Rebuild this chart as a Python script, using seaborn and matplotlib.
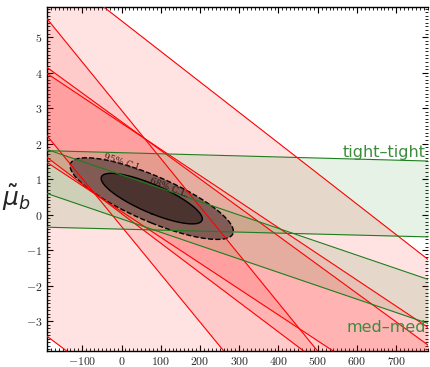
import numpy as np
import pandas as pd
import matplotlib
matplotlib.use("Agg")
import matplotlib.pyplot as plt
import seaborn as sns
from matplotlib.ticker import MultipleLocator, FuncFormatter

# Channel constraints: each edge is mu_b = offset + slope * x
red_upper_offset = [5.46, 2.94, 2.617, 2.577]
red_upper_slope = [-0.00861, -0.01358, -0.00806, -0.00737]
red_lower_offset = [-5.00, -0.335, 0.028, 0.087]
red_lower_slope = [-0.00828, -0.01347, -0.00834, -0.00729]

green_names = ["tight\u2013tight", "med\u2013med"]
green_upper_offset = [1.743, 1.118]
green_upper_slope = [-0.0003, -0.00377]
green_lower_offset = [-0.41, -0.122]
green_lower_slope = [-0.00028, -0.00377]

# Combined fit: centre, widths and correlation
fit_center = [77.0, 0.45]
fit_sigma = [85.0, 0.47]
fit_rho = -0.80
cl_levels = [5.99, 2.30]      # delta chi^2 for 95% and 68% C.L. in 2D
cl_labels = ["95% C.L.", "68% C.L."]
cl_colors = ["#7b5651", "#47302c"]
cl_styles = ["--", "-"]

xlim = (-191, 782)
ylim = (-3.84, 5.86)

sns.set_theme(style="ticks")
plt.rcParams["mathtext.fontset"] = "cm"
plt.rcParams["font.family"] = ["DejaVu Sans"]

fig = plt.figure(figsize=(4.31, 3.67), dpi=100)
ax = fig.add_axes([0.108, 0.044, 0.886, 0.938])

xs = np.linspace(xlim[0], xlim[1], 400)

red_bands = list(zip(red_upper_offset, red_upper_slope, red_lower_offset, red_lower_slope))
green_bands = list(zip(green_upper_offset, green_upper_slope, green_lower_offset, green_lower_slope))

# band fills
for uo, us, lo, ls in red_bands:
    ax.fill_between(xs, lo + ls * xs, uo + us * xs, color="red", alpha=0.11, lw=0, zorder=1)
for uo, us, lo, ls in green_bands:
    ax.fill_between(xs, lo + ls * xs, uo + us * xs, color="green", alpha=0.10, lw=0, zorder=1)

# confidence regions of the combined fit
cov = np.array([[fit_sigma[0] ** 2, fit_rho * fit_sigma[0] * fit_sigma[1]],
                [fit_rho * fit_sigma[0] * fit_sigma[1], fit_sigma[1] ** 2]])
w, v = np.linalg.eigh(cov)
t = np.linspace(0, 2 * np.pi, 300)
for lvl, col, style in zip(cl_levels, cl_colors, cl_styles):
    circ = np.vstack([np.cos(t), np.sin(t)]) * np.sqrt(w * lvl)[:, None]
    pts = v @ circ
    ex = fit_center[0] + pts[0]
    ey = fit_center[1] + pts[1]
    ax.fill(ex, ey, color=col, alpha=0.92, lw=0, zorder=2)
    ax.plot(ex, ey, color="black", ls=style, lw=1.0, zorder=3)

# boundary lines via seaborn
rows = []
k = 0
for kind, bands in [("red", red_bands), ("green", green_bands)]:
    for uo, us, lo, ls in bands:
        for off, sl in ((uo, us), (lo, ls)):
            for xv in xs:
                rows.append((kind, k, xv, off + sl * xv))
            k += 1
lines = pd.DataFrame(rows, columns=["kind", "line", "x", "y"])
for kind, col in [("red", "#ff0000"), ("green", "#1e7d1e")]:
    sub = lines[lines.kind == kind]
    sns.lineplot(data=sub, x="x", y="y", units="line", estimator=None,
                 color=col, lw=0.8, ax=ax, legend=False, zorder=4, sort=False)

ax.set_xlim(*xlim)
ax.set_ylim(*ylim)
ax.set_xlabel("")

# labels on the contours
ax.text(5, 1.46, cl_labels[0], rotation=-18, fontsize=6.5, family="DejaVu Serif",
        color="#3a2525", ha="center", va="center", zorder=5)
ax.text(122, 0.74, cl_labels[1], rotation=-21, fontsize=6.5, family="DejaVu Serif",
        color="#2a1515", ha="center", va="center", zorder=5)

ax.text(775, 1.53, green_names[0], color="#3c8c3c", fontsize=11.5, ha="right", va="bottom", zorder=5)
ax.text(775, -3.40, green_names[1], color="#3c8c3c", fontsize=11.5, ha="right", va="bottom", zorder=5)

ax.set_ylabel(r"$\tilde{\mu}_b$", rotation=0, fontsize=18, math_fontfamily="dejavusans",
              ha="center", va="center")
ax.yaxis.set_label_coords(-0.078, 0.445)

ax.xaxis.set_major_locator(MultipleLocator(100))
ax.xaxis.set_minor_locator(MultipleLocator(10))
ax.yaxis.set_major_locator(MultipleLocator(1))
ax.yaxis.set_minor_locator(MultipleLocator(0.1))
fmt = FuncFormatter(lambda val, pos: f"${val:g}$")
ax.xaxis.set_major_formatter(fmt)
ax.yaxis.set_major_formatter(fmt)
ax.tick_params(which="both", direction="in", top=True, right=True, color="black",
               labelsize=8.5, pad=3)
ax.tick_params(which="major", length=4, width=0.8)
ax.tick_params(which="minor", length=2, width=0.6)
for side in ["left", "bottom", "top"]:
    ax.spines[side].set_color("black")
    ax.spines[side].set_linewidth(1.0)
ax.spines["right"].set_visible(False)

fig.savefig("out.png", dpi=100)
